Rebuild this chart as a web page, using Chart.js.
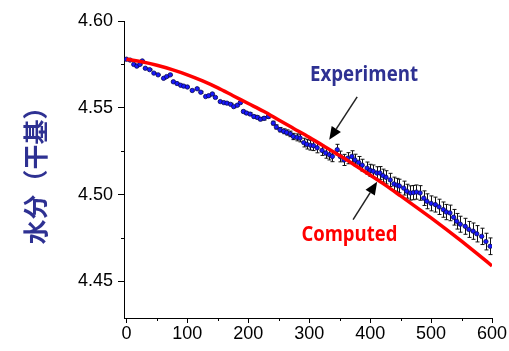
<!DOCTYPE html>
<html>
<head>
<meta charset="utf-8">
<script src="https://cdn.jsdelivr.net/npm/chart.js@4.4.1/dist/chart.umd.min.js"></script>
<style>
html,body{margin:0;padding:0;background:#fff;}
canvas{display:block;}
</style>
</head>
<body>
<canvas id="c" width="509" height="351"></canvas>
<script>
// ---- data ----
const expX = [0,6,12,17,22,26,31,38,45,52,61,66,72,77,83,89,94,100,108,116,122,130,135,141,146,154,160,165,171,176,182,187,
  192,197,203,209,215,220,226,233,241,246,252,258,263,269,274,280,
  285,291,296,302,307,313,321,327,333,338,346,351,357,363,370,375,381,387,395,400,405,411,416,421,426,433,439,444,448,455,460,466,471,476,482,488,493,500,507,513,520,525,531,537,542,548,556,562,569,575,583,590,597];
const expY = [4.5780,4.5775,4.5750,4.5740,4.5750,4.5770,4.5728,4.5720,4.5700,4.5690,4.5670,4.5680,4.5690,4.5650,4.5640,4.5630,4.5625,4.5620,4.5600,4.5610,4.5590,4.5565,4.5570,4.5580,4.5560,4.5536,4.5530,4.5527,4.5520,4.5507,4.5515,4.5530,
  4.5479,4.5470,4.5464,4.5450,4.5445,4.5435,4.5440,4.5450,4.5412,4.5390,4.5374,4.5365,4.5358,4.5350,4.5335,4.5330,
  4.5326,4.5300,4.5290,4.5285,4.5282,4.5270,4.5255,4.5240,4.5230,4.5220,4.5259,4.5220,4.5200,4.5210,4.5220,4.5200,4.5186,4.5170,4.5153,4.5140,4.5135,4.5125,4.5125,4.5110,4.5100,4.5085,4.5062,4.5055,4.5050,4.5038,4.5020,4.5010,4.5012,4.5015,4.5010,4.4980,4.4962,4.4950,4.4943,4.4930,4.4914,4.4900,4.4895,4.4870,4.4847,4.4830,4.4818,4.4800,4.4790,4.4775,4.4760,4.4730,4.4703];
const expErr = [0.0003,0.0003,0.0003,0.0003,0.0003,0.0003,0.0003,0.0003,0.0003,0.0003,0.0004,0.0004,0.0004,0.0004,0.0004,0.0004,0.0004,0.0004,0.0004,0.0004,0.0005,0.0005,0.0005,0.0005,0.0005,0.0005,0.0005,0.0005,0.0006,0.0006,0.0006,0.0006,
  0.0007,0.0007,0.0008,0.0008,0.0009,0.0009,0.0010,0.0010,0.0011,0.0012,0.0013,0.0014,0.0015,0.0016,0.0018,0.0020,
  0.0022,0.0025,0.0027,0.0028,0.0028,0.0029,0.0029,0.0030,0.0030,0.0030,0.0031,0.0031,0.0032,0.0032,0.0033,0.0033,0.0034,0.0034,0.0035,0.0035,0.0036,0.0036,0.0037,0.0037,0.0038,0.0038,0.0039,0.0039,0.0039,0.0040,0.0040,0.0041,0.0041,0.0041,0.0042,0.0042,0.0043,0.0043,0.0043,0.0044,0.0044,0.0044,0.0045,0.0045,0.0045,0.0046,0.0046,0.0046,0.0047,0.0047,0.0047,0.0048,0.0048];
const compX = [0,25,50,75,100,125,150,175,200,225,250,275,300,325,350,375,400,425,450,475,500,525,550,575,600];
const compY = [4.5780,4.5765,4.5745,4.5720,4.5690,4.5655,4.5615,4.5570,4.5525,4.5480,4.5430,4.5380,4.5330,4.5278,4.5225,4.5170,4.5113,4.5055,4.4993,4.4930,4.4866,4.4800,4.4732,4.4662,4.4590];
const xTicks = [0,100,200,300,400,500,600];
const xMinor = [50,150,250,350,450,550];
const yTicks = [4.45,4.50,4.55,4.60];
const yMinor = [4.475,4.525,4.575];
const yTitle = '水分（干基）';
const labelExp = 'Experiment';
const labelComp = 'Computed';

const NAVY = '#2e3192';

const extras = {
  id: 'extras',
  beforeDatasetsDraw(chart) {
    const {ctx, scales: {x, y}} = chart;
    ctx.save();
    ctx.strokeStyle = '#111';
    ctx.lineWidth = 1;
    for (let i = 0; i < expX.length; i++) {
      const px = Math.round(x.getPixelForValue(expX[i])) + 0.5;
      const y1 = y.getPixelForValue(expY[i] + expErr[i]);
      const y2 = y.getPixelForValue(expY[i] - expErr[i]);
      ctx.beginPath();
      ctx.moveTo(px, y1); ctx.lineTo(px, y2);
      ctx.moveTo(px - 2, y1); ctx.lineTo(px + 2, y1);
      ctx.moveTo(px - 2, y2); ctx.lineTo(px + 2, y2);
      ctx.stroke();
    }
    ctx.restore();
  },
  afterDraw(chart) {
    const {ctx, scales: {x, y}, chartArea: ca} = chart;
    ctx.save();
    // minor ticks
    ctx.strokeStyle = '#000';
    ctx.lineWidth = 1;
    ctx.beginPath();
    xMinor.forEach(v => {
      const px = Math.round(x.getPixelForValue(v)) + 0.5;
      ctx.moveTo(px, ca.bottom); ctx.lineTo(px, ca.bottom + 3);
    });
    yMinor.forEach(v => {
      const py = Math.round(y.getPixelForValue(v)) + 0.5;
      ctx.moveTo(ca.left, py); ctx.lineTo(ca.left - 3, py);
    });
    ctx.stroke();

    // labels
    ctx.textAlign = 'center';
    ctx.textBaseline = 'alphabetic';
    ctx.font = 'bold 21px "Open Sans"';
    ctx.fillStyle = NAVY;
    ctx.fillText(labelExp, x.getPixelForValue(390), y.getPixelForValue(4.5655), 108);
    ctx.fillStyle = '#ff0000';
    ctx.fillText(labelComp, x.getPixelForValue(366), y.getPixelForValue(4.4732), 96);

    // arrows
    const arrow = (x0, y0, x1, y1) => {
      const ax = x.getPixelForValue(x0), ay = y.getPixelForValue(y0);
      const bx = x.getPixelForValue(x1), by = y.getPixelForValue(y1);
      const ang = Math.atan2(by - ay, bx - ax);
      const hl = 13, hw = 5.5;
      const cx = bx - hl * Math.cos(ang), cy = by - hl * Math.sin(ang);
      ctx.strokeStyle = '#222';
      ctx.lineWidth = 1.5;
      ctx.beginPath();
      ctx.moveTo(ax, ay); ctx.lineTo(cx, cy);
      ctx.stroke();
      ctx.fillStyle = '#000';
      ctx.beginPath();
      ctx.moveTo(bx, by);
      ctx.lineTo(cx + hw * Math.sin(ang), cy - hw * Math.cos(ang));
      ctx.lineTo(cx - hw * Math.sin(ang), cy + hw * Math.cos(ang));
      ctx.closePath();
      ctx.fill();
    };
    arrow(378.7, 4.5563, 332.8, 4.5316);
    arrow(372, 4.4856, 411.5, 4.5075);
    ctx.restore();
  }
};

const tickFont = {family: '"Liberation Sans", Arial, sans-serif', size: 18};

new Chart(document.getElementById('c'), {
  type: 'scatter',
  data: {
    datasets: [
      {
        label: labelComp,
        data: compX.map((v, i) => ({x: v, y: compY[i]})),
        showLine: true,
        borderColor: '#ff0000',
        borderWidth: 3.5,
        pointRadius: 0,
        cubicInterpolationMode: 'monotone',
        order: 0
      },
      {
        label: labelExp,
        data: expX.map((v, i) => ({x: v, y: expY[i]})),
        showLine: false,
        pointRadius: 2.2,
        pointBackgroundColor: '#1818ff',
        pointBorderColor: '#0a0a55',
        pointBorderWidth: 0.8,
        order: 1
      }
    ]
  },
  options: {
    responsive: false,
    animation: false,
    devicePixelRatio: 1,
    layout: {padding: {top: 21, right: 17, left: 0, bottom: 0}},
    plugins: {legend: {display: false}, tooltip: {enabled: false}},
    scales: {
      x: {
        type: 'linear',
        min: -4, max: 600,
        afterBuildTicks: s => { s.ticks = xTicks.map(v => ({value: v})); },
        afterFit: s => { s.height = 33; },
        ticks: {font: tickFont, color: '#000', padding: 0, maxRotation: 0, autoSkip: false},
        grid: {drawOnChartArea: false, drawTicks: true, tickLength: 5, color: '#000', lineWidth: 1},
        border: {display: true, color: '#000', width: 1}
      },
      y: {
        min: 4.429, max: 4.60,
        afterBuildTicks: s => { s.ticks = yTicks.map(v => ({value: v})); },
        afterFit: s => { s.width = 124; },
        ticks: {font: tickFont, color: '#000', padding: 5, callback: v => Number(v).toFixed(2)},
        grid: {drawOnChartArea: false, drawTicks: true, tickLength: 6, color: '#000', lineWidth: 1},
        border: {display: true, color: '#000', width: 1},
        title: {
          display: true,
          text: yTitle,
          color: NAVY,
          font: {family: '"Noto Sans CJK SC", sans-serif', size: 25, weight: 'bold'},
          padding: {top: 20, bottom: 0}
        }
      }
    }
  },
  plugins: [extras]
});
</script>
</body>
</html>
